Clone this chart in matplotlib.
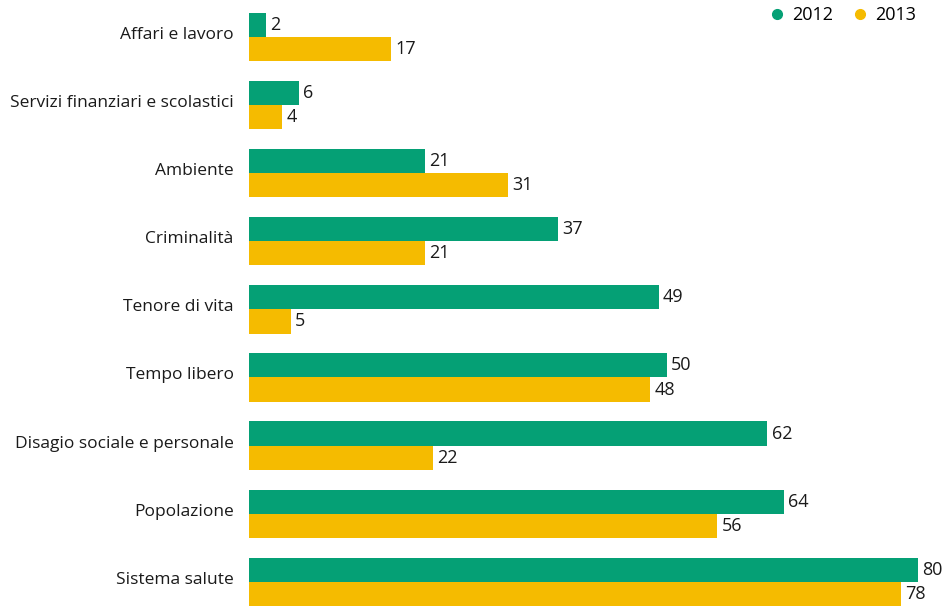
import numpy as np
import matplotlib.pyplot as plt
from matplotlib.lines import Line2D

categories = ['Affari e lavoro', 'Servizi finanziari e scolastici', 'Ambiente',
              'Criminalità', 'Tenore di vita', 'Tempo libero',
              'Disagio sociale e personale', 'Popolazione', 'Sistema salute']
values_2012 = [2, 6, 21, 37, 49, 50, 62, 64, 80]
values_2013 = [17, 4, 31, 21, 5, 48, 22, 56, 78]

green = '#05a075'
yellow = '#f5bb00'

plt.rcParams['font.family'] = ['Open Sans', 'DejaVu Sans']

fig = plt.figure(figsize=(9.48, 6.07), dpi=100)
ax = fig.add_axes([249 / 948, 0, (918 - 249) / 948, 1])

y = np.arange(len(categories))
h = 0.355
b1 = ax.barh(y - h / 2, values_2012, height=h, color=green)
b2 = ax.barh(y + h / 2, values_2013, height=h, color=yellow)
ax.bar_label(b1, padding=3, fontsize=13, color='#1a1a1a')
ax.bar_label(b2, padding=3, fontsize=13, color='#1a1a1a')

ax.set_xlim(0, 80)
ax.set_ylim(8.37, -0.543)
ax.set_yticks(y - 0.06)
ax.set_yticklabels(categories, fontsize=12.5, color='#1a1a1a')
ax.tick_params(axis='y', length=0, pad=11)
ax.set_xticks([])
for s in ax.spines.values():
    s.set_visible(False)

handles = [Line2D([], [], marker='o', linestyle='', color=green, markersize=7),
           Line2D([], [], marker='o', linestyle='', color=yellow, markersize=7)]
ax.legend(handles, ['2012', '2013'], ncol=2, frameon=False, loc='upper right',
          bbox_to_anchor=(1.022, 1.017), fontsize=13, handletextpad=-0.15,
          columnspacing=0.5)

fig.savefig('out.png', dpi=100)
